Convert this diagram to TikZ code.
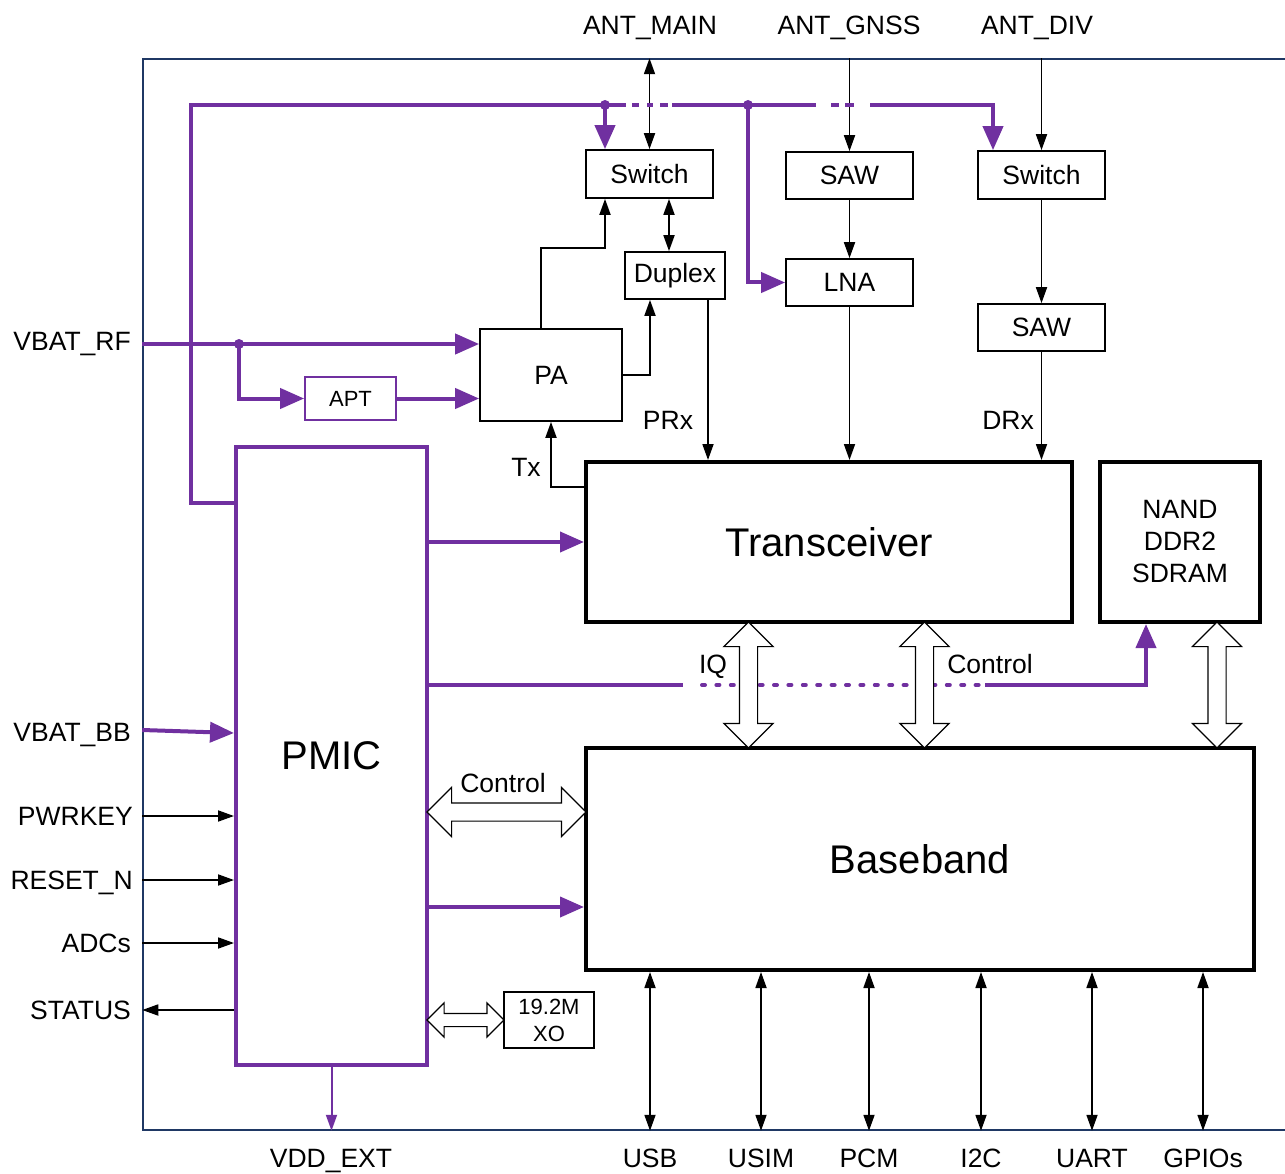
\documentclass[tikz,border=0pt]{standalone}
\usepackage{fontspec}
\setmainfont{Liberation Sans}
\usetikzlibrary{arrows.meta,shapes.arrows}
\definecolor{pmpurple}{RGB}{112,48,160}
\definecolor{framenavy}{RGB}{31,56,100}

\begin{document}
\begin{tikzpicture}[x=1pt,y=-1pt,
    bk/.tip={Triangle[length=16pt,width=11pt]},
    pp/.tip={Triangle[length=24pt,width=20pt]},
    ps/.tip={Triangle[length=16pt,width=11pt]},
    lbl/.style={font=\fontsize{26.5}{30}\selectfont, inner sep=0pt, text depth=0pt},
    blk/.style={rectangle, draw=black, line width=1.7pt, inner sep=0pt, font=\fontsize{26.5}{30}\selectfont},
    chip/.style={rectangle, draw=black, line width=4pt, inner sep=0pt, font=\fontsize{40}{46}\selectfont},
    sig/.style={draw=black, line width=1.8pt},
    pwr/.style={draw=pmpurple, line width=4pt},
    hollow/.style={double arrow, draw=black, fill=white, line width=1.2pt, inner xsep=0pt, inner ysep=8.5pt,
        double arrow head extend=15.5pt, double arrow tip angle=90, minimum height=126pt}]

    \useasboundingbox (0,0) rectangle (1285,1174);

    % Module outline
    \node[rectangle, draw=framenavy, line width=1.5pt, minimum width=1143, minimum height=1071, inner sep=0pt] (frame) at (714.5,594.5) {};

    % RF front end
    \node[blk, minimum width=127, minimum height=48] (sw1) at (649.5,174) {Switch};
    \node[blk, minimum width=127, minimum height=47] (saw1) at (849.5,175.5) {SAW};
    \node[blk, minimum width=127, minimum height=48] (sw2) at (1041.5,175) {Switch};
    \node[blk, minimum width=100, minimum height=47] (dup) at (675,275.5) {Duplex};
    \node[blk, minimum width=127, minimum height=47] (lna) at (849.5,282.5) {LNA};
    \node[blk, minimum width=127, minimum height=47] (saw2) at (1041.5,327.5) {SAW};
    \node[blk, minimum width=142, minimum height=92] (pa) at (551,375) {PA};
    \node[blk, draw=pmpurple, minimum width=91, minimum height=43, font=\fontsize{22}{26}\selectfont] (apt) at (350.5,398.5) {APT};
    \node[blk, minimum width=90, minimum height=56, align=center, font=\fontsize{22}{27}\selectfont] (xo) at (549,1020) {19.2M\\XO};

    % Main chips
    \node[chip, minimum width=486, minimum height=160] (trx) at (829,542) {Transceiver};
    \node[chip, minimum width=160, minimum height=160, align=center, font=\fontsize{26.5}{32}\selectfont] (nand) at (1180,542) {NAND\\DDR2\\SDRAM};
    \node[chip, minimum width=668, minimum height=222] (bb) at (920,859) {Baseband};
    \node[chip, draw=pmpurple, minimum width=191, minimum height=618] (pmic) at (331.5,756) {PMIC};

    % Pin labels
    \node[lbl] (antmain) at (650,25) {ANT\_MAIN};
    \node[lbl] (antgnss) at (849,25) {ANT\_GNSS};
    \node[lbl] (antdiv) at (1037,25) {ANT\_DIV};
    \node[lbl, anchor=east] (vbatrf) at (131,341) {VBAT\_RF};
    \node[lbl, anchor=east] (vbatbb) at (131,732) {VBAT\_BB};
    \node[lbl, anchor=east] (pwrkey) at (133,816) {PWRKEY};
    \node[lbl, anchor=east] (resetn) at (133,880) {RESET\_N};
    \node[lbl, anchor=east] (adcs) at (131,943) {ADCs};
    \node[lbl, anchor=east] (status) at (131,1010) {STATUS};
    \node[lbl] (vddext) at (331,1158) {VDD\_EXT};
    \node[lbl] (prx) at (668,420) {PRx};
    \node[lbl] (drx) at (1008,420) {DRx};
    \node[lbl] (tx) at (526,467) {Tx};
    \node[lbl] (iqlbl) at (713,664) {IQ};
    \node[lbl] (ctllbl) at (990,664) {Control};
    \node[lbl] (pmctllbl) at (503,783) {Control};

    % RF signal paths
    \draw[sig, bk-bk] (sw1.north) -- (sw1.north |- frame.north);
    \draw[sig, -bk] (saw1.north |- frame.north) -- (saw1.north);
    \draw[sig, -bk] (sw2.north |- frame.north) -- (sw2.north);
    \draw[sig, bk-bk] ([xshift=-6]dup.north) -- ([xshift=-6]dup.north |- sw1.south);
    \draw[sig, -bk] ([xshift=-10]pa.north) -- ++(0,-80) -| ([xshift=-44.5]sw1.south);
    \draw[sig, -bk] (pa.east) -| ([xshift=-25]dup.south);
    \draw[sig, -bk] ([xshift=33]dup.south) -- ([xshift=33]dup.south |- trx.north);
    \draw[sig, -bk] (saw1.south) -- (lna.north);
    \draw[sig, -bk] (lna.south) -- (lna.south |- trx.north);
    \draw[sig, -bk] (sw2.south) -- (saw2.north);
    \draw[sig, -bk] (saw2.south) -- (saw2.south |- trx.north);
    \draw[sig, -bk] ([yshift=55]trx.west) -| (pa.south);

    % PMIC control pins
    \draw[sig, -bk] (pwrkey.east -| frame.west) -- (pwrkey.east -| pmic.west);
    \draw[sig, -bk] (resetn.east -| frame.west) -- (resetn.east -| pmic.west);
    \draw[sig, -bk] (adcs.east -| frame.west) -- (adcs.east -| pmic.west);
    \draw[sig, -bk] (status.east -| pmic.west) -- (status.east -| frame.west);

    % Baseband interfaces
    \foreach \x/\nm/\txt in {650/usb/USB, 761/usim/USIM, 869/pcm/PCM, 981/itc/I2C, 1092/uart/UART, 1203/gpio/GPIOs}{
        \node[lbl] (\nm) at (\x,1158) {\txt};
        \draw[sig, bk-bk] (\nm.north |- bb.south) -- (\nm.north |- frame.south);
    }

    % Power bus
    \coordinate (busA) at (191,105);
    \coordinate (j1) at (605,105);
    \coordinate (gapA) at (626,105);
    \coordinate (gapB) at (672,105);
    \coordinate (j2) at (748,105);
    \coordinate (gapC) at (814,105);
    \coordinate (gapD) at (870,105);
    \coordinate (j3) at (239,344);
    \coordinate (ctlA) at (683,685);
    \coordinate (ctlB) at (985,685);

    \draw[pwr] ([yshift=253]pmic.west) -| (busA) -- (gapA);
    \draw[pwr, dash pattern=on 0pt off 6pt on 7pt off 8pt on 6pt off 7pt on 8pt off 30pt] (gapA) -- (gapB);
    \draw[pwr] (gapB) -- (gapC);
    \draw[pwr, dash pattern=on 2pt off 15pt on 8pt off 6pt on 9pt off 30pt] (gapC) -- (gapD);
    \draw[pwr, -pp] (gapD) -| ([xshift=-48.5]sw2.north);
    \draw[pwr, -pp] (j1) -- ([xshift=-44.5]sw1.north);
    \draw[pwr, -pp] (j2) |- (lna.west);
    \fill[pmpurple] (j1) circle (5) (j2) circle (5) (j3) circle (5);

    \draw[pwr, -pp] ([yshift=31]pa.west -| frame.west) -- ([yshift=31]pa.west);
    \draw[pwr, -pp] (j3) |- (apt.west);
    \draw[pwr, -pp] (apt.east) -- (apt.east -| pa.west);
    \draw[pwr, -pp] (trx.west -| pmic.east) -- (trx.west);
    \draw[pwr] (ctlA -| pmic.east) -- (ctlA);
    \draw[pwr, line cap=round, dash pattern=on 3pt off 11.4pt] ([xshift=19]ctlA) -- (ctlB);
    \draw[pwr, -pp] (ctlB) -| ([xshift=-34]nand.south);
    \draw[pwr, -pp] (frame.west |- 0,730) -- ([yshift=23]pmic.west);
    \draw[pwr, -pp] ([yshift=-151]pmic.east) -- ([yshift=-151]pmic.east -| bb.west);
    \draw[draw=pmpurple, line width=2pt, -ps] (pmic.south) -- (pmic.south |- frame.south);

    % Bus links
    \node[hollow, rotate=90] (iq) at (748.5,685) {};
    \node[hollow, rotate=90] (ctl) at (924.5,685) {};
    \node[hollow, rotate=90] (memlink) at (1217,685) {};
    \node[hollow, minimum height=159] (pmlink) at (506.5,812) {};
    \node[hollow, minimum height=77, inner ysep=6pt, double arrow head extend=10.5pt] (xolink) at (465.5,1020) {};

\end{tikzpicture}
\end{document}
